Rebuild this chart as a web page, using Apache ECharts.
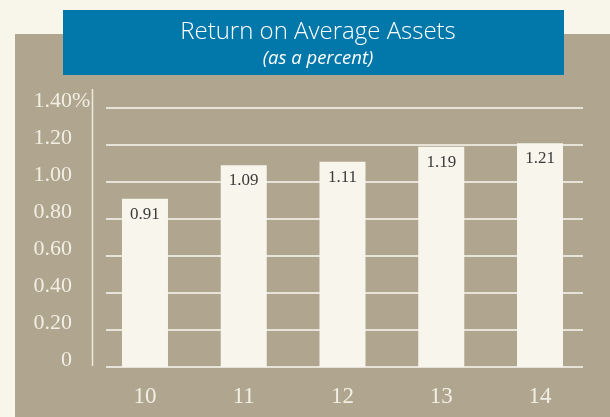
<!DOCTYPE html>
<html>
<head>
<meta charset="utf-8">
<script src="https://cdn.jsdelivr.net/npm/echarts@6/dist/echarts.min.js"></script>
<style>
  html, body { margin: 0; padding: 0; background: #f8f6eb; }
  #chart { width: 610px; height: 417px; }
</style>
</head>
<body>
<div id="chart"></div>
<script>
const years = ['10', '11', '12', '13', '14'];
const roaa = [0.91, 1.09, 1.11, 1.19, 1.21];
const yMin = 0, yMax = 1.4, yStep = 0.2;

const taupe = '#b0a58e';
const cream = '#f8f6eb';
const serif = '"Liberation Serif", "DejaVu Serif", serif';

const chart = echarts.init(document.getElementById('chart'));

const option = {
    backgroundColor: cream,
    animation: false,
    title: {
        text: 'Return on Average Assets',
        subtext: '(as a percent)',
        left: 313,
        top: 12,
        textAlign: 'center',
        itemGap: 1,
        textStyle: { color: '#fff', fontFamily: '"Open Sans", sans-serif', fontWeight: 300, fontSize: 24, lineHeight: 30 },
        subtextStyle: { color: '#fff', fontFamily: '"Open Sans", sans-serif', fontStyle: 'italic', fontSize: 18.5, lineHeight: 22 }
    },
    graphic: [
        { type: 'rect', z: -10, shape: { x: 15, y: 34, width: 595, height: 383 }, style: { fill: taupe } },
        { type: 'rect', z: -9, shape: { x: 63, y: 10, width: 501, height: 65 }, style: { fill: '#0277aa' } },
        { type: 'line', z: 5, shape: { x1: 92.5, y1: 89, x2: 92.5, y2: 366 }, style: { stroke: '#eee9de', lineWidth: 1.5 } },
        { type: 'text', z: 5, x: 72, y: 101, style: { text: '%', font: '22px ' + serif, fill: '#f2eee4', align: 'left', verticalAlign: 'middle' } }
    ],
    grid: [
        { left: 106, right: 27, top: 108, height: 259 },
        { left: 95.6, right: 20.6, top: 108, height: 259 }
    ],
    xAxis: [
        { type: 'category', gridIndex: 0, data: years, show: false },
        {
            type: 'category', gridIndex: 1, data: years,
            axisLine: { show: false }, axisTick: { show: false },
            axisLabel: { color: '#f2eee4', fontFamily: serif, fontSize: 23, margin: 18 }
        }
    ],
    yAxis: [
        {
            type: 'value', gridIndex: 0, min: yMin, max: yMax, interval: yStep,
            axisLine: { show: false }, axisTick: { show: false },
            splitLine: { lineStyle: { color: '#faf8f2', width: 1.5 } },
            axisLabel: {
                color: '#f2eee4', fontFamily: serif, fontSize: 22, margin: 34,
                verticalAlign: 'bottom', lineHeight: 14,
                formatter: v => v === 0 ? '0' : v.toFixed(2)
            }
        },
        { type: 'value', gridIndex: 1, min: yMin, max: yMax, interval: yStep, show: false }
    ],
    series: [{
        type: 'bar',
        xAxisIndex: 1,
        yAxisIndex: 1,
        data: roaa,
        barWidth: 46,
        itemStyle: { color: '#f8f6ec' },
        label: {
            show: true, position: 'insideTop', distance: 7,
            color: '#3a3a3a', fontFamily: serif, fontSize: 17,
            formatter: p => p.value.toFixed(2)
        }
    }]
};

chart.setOption(option);
</script>
</body>
</html>
